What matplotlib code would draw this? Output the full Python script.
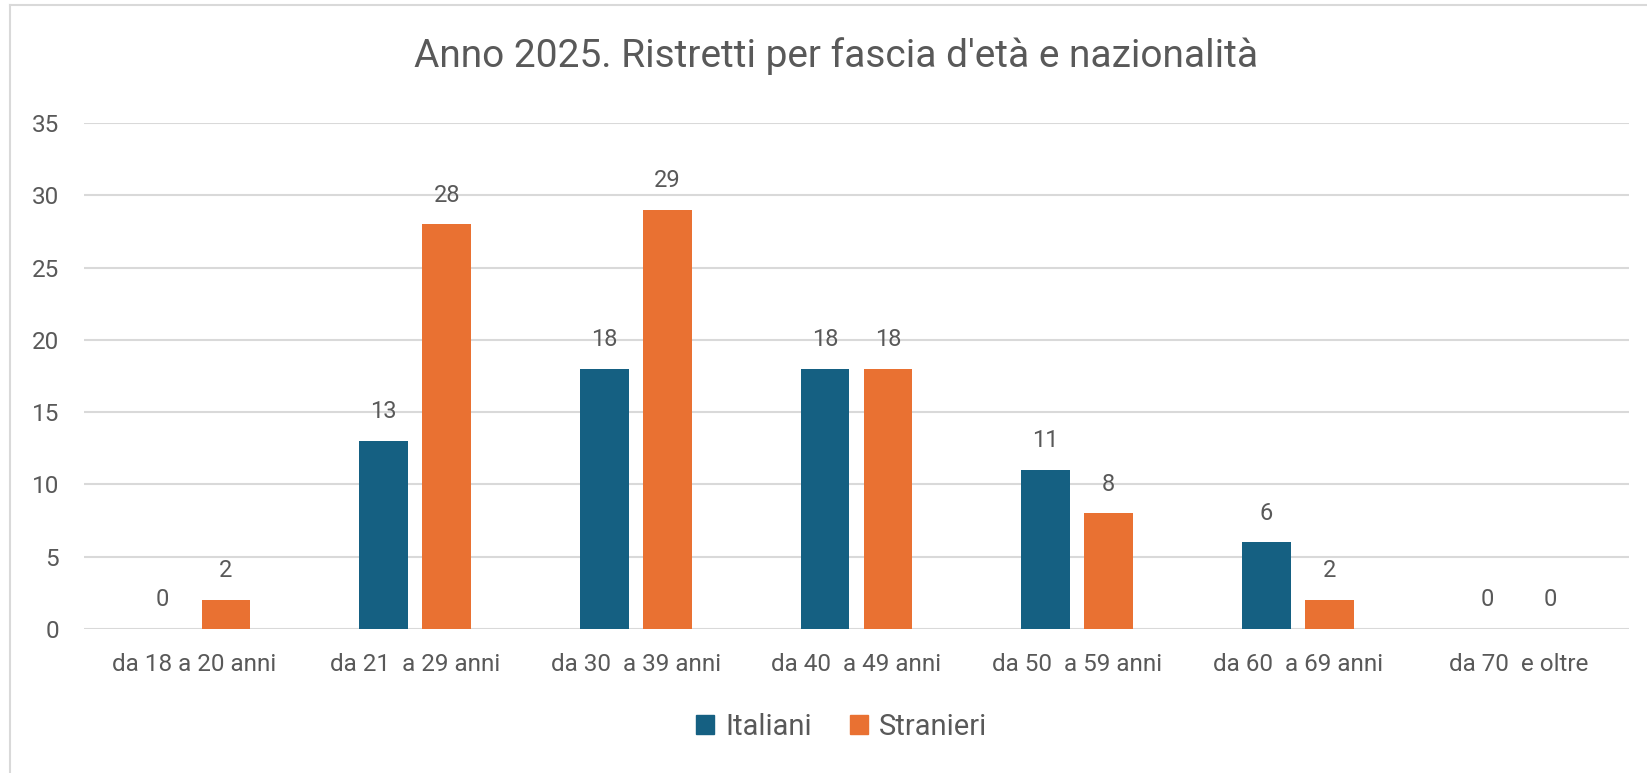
import matplotlib.pyplot as plt
import numpy as np
from matplotlib.lines import Line2D

plt.rcParams['font.family'] = ['Roboto', 'DejaVu Sans']

categorie = ["da 18 a 20 anni", "da 21  a 29 anni", "da 30  a 39 anni",
             "da 40  a 49 anni", "da 50  a 59 anni", "da 60  a 69 anni",
             "da 70  e oltre"]
italiani = [0, 13, 18, 18, 11, 6, 0]
stranieri = [2, 28, 29, 18, 8, 2, 0]
y_ticks = [0, 5, 10, 15, 20, 25, 30, 35]

col_ita = "#156082"
col_str = "#E97132"
grigio = "#595959"

W, H = 1647, 773
fig = plt.figure(figsize=(W / 100, H / 100), dpi=100)
ax = fig.add_axes([84 / W, 1 - 629 / H, (1629 - 84) / W, (629 - 123) / H])

x = np.arange(len(categorie))
w = 0.22
off = 0.143
b1 = ax.bar(x - off, italiani, w, color=col_ita, zorder=3)
b2 = ax.bar(x + off, stranieri, w, color=col_str, zorder=3)

for bars, vals in ((b1, italiani), (b2, stranieri)):
    for r, v in zip(bars, vals):
        ax.annotate(str(v), (r.get_x() + r.get_width() / 2, v),
                    xytext=(0, 21), textcoords="offset points",
                    ha="center", va="center", fontsize=17, color=grigio)

ax.set_xlim(-0.5, len(categorie) - 0.5)
ax.set_ylim(0, 35)
ax.set_yticks(y_ticks)
ax.set_xticks(x)
ax.set_xticklabels(categorie)
ax.tick_params(axis="y", length=0, pad=18, labelsize=17.5, labelcolor=grigio)
ax.tick_params(axis="x", length=0, pad=17, labelsize=17.5, labelcolor=grigio)
ax.grid(axis="y", color="#D9D9D9", linewidth=1.5, zorder=0)
for s in ax.spines.values():
    s.set_visible(False)

fig.text(836 / W, 1 - 56 / H, "Anno 2025. Ristretti per fascia d'età e nazionalità",
         ha="center", va="center", fontsize=28, color=grigio)

handles = [plt.Rectangle((0, 0), 1, 1, color=col_ita),
           plt.Rectangle((0, 0), 1, 1, color=col_str)]
fig.legend(handles, ["Italiani", "Stranieri"], loc="center",
           bbox_to_anchor=(842 / W, 1 - 727 / H), ncol=2, frameon=False,
           fontsize=21, labelcolor=grigio, handlelength=0.6, handleheight=0.6,
           handletextpad=0.4, columnspacing=1.3)

# cornice del grafico
fig.add_artist(Line2D([10 / W, 10 / W], [0, 1 - 5 / H], color="#D9D9D9", lw=1.5))
fig.add_artist(Line2D([10 / W, 1], [1 - 5 / H, 1 - 5 / H], color="#D9D9D9", lw=1.5))

fig.savefig("out.png", dpi=100, facecolor="white")
